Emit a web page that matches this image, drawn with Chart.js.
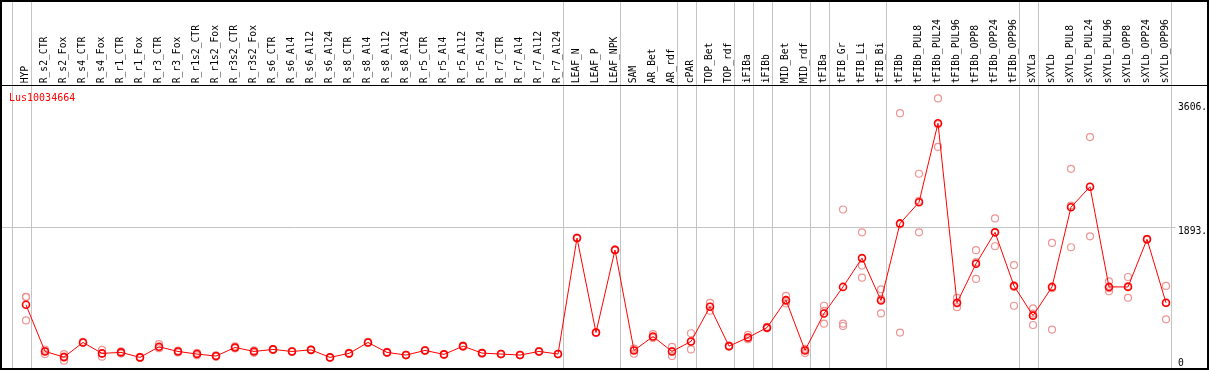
<!DOCTYPE html>
<html>
<head>
<meta charset="utf-8">
<script src="https://cdn.jsdelivr.net/npm/chart.js@4/dist/chart.umd.min.js"></script>
<style>
  body { margin: 0; background: #fff; }
  canvas { display: block; }
</style>
</head>
<body>
<canvas id="expr-chart" width="1209" height="370"></canvas>
<script>
const geneName = 'Lus10034664';

const categories = ['HYP', 'R_s2_CTR', 'R_s2_Fox', 'R_s4_CTR', 'R_s4_Fox', 'R_r1_CTR', 'R_r1_Fox',
    'R_r3_CTR', 'R_r3_Fox', 'R_r1s2_CTR', 'R_r1s2_Fox', 'R_r3s2_CTR', 'R_r3s2_Fox',
    'R_s6_CTR', 'R_s6_Al4', 'R_s6_Al12', 'R_s6_Al24', 'R_s8_CTR', 'R_s8_Al4', 'R_s8_Al12', 'R_s8_Al24',
    'R_r5_CTR', 'R_r5_Al4', 'R_r5_Al12', 'R_r5_Al24', 'R_r7_CTR', 'R_r7_Al4', 'R_r7_Al12', 'R_r7_Al24',
    'LEAF_N', 'LEAF_P', 'LEAF_NPK', 'SAM', 'AR_Bet', 'AR_rdf', 'cPAR', 'TOP_Bet', 'TOP_rdf',
    'iFIBa', 'iFIBb', 'MID_Bet', 'MID_rdf', 'tFIBa', 'tFIB_Gr', 'tFIB_Li', 'tFIB_Bi',
    'tFIBb', 'tFIBb_PUL8', 'tFIBb_PUL24', 'tFIBb_PUL96', 'tFIBb_OPP8', 'tFIBb_OPP24', 'tFIBb_OPP96',
    'sXYLa', 'sXYLb', 'sXYLb_PUL8', 'sXYLb_PUL24', 'sXYLb_PUL96', 'sXYLb_OPP8', 'sXYLb_OPP24', 'sXYLb_OPP96'];

// number of categories in each group (gray separators between groups)
const groupSizes = [1, 28, 3, 3, 1, 2, 1, 1, 2, 1, 3, 7, 1, 7];

const means = [823, 179, 101, 303, 152, 166, 97, 243, 179, 143, 115, 234, 179,
    207, 179, 201, 97, 152, 303, 166, 129, 193, 138, 252, 156, 143, 129, 179, 143,
    1745, 440, 1581, 193, 385, 179, 317, 796, 252, 371, 508, 887, 193,
    704, 1070, 1468, 882, 1947, 2239, 3331, 851, 1390, 1824, 1084,
    673, 1070, 2171, 2454, 1070, 1070, 1728, 851];

const rep1 = [933, 188, 143, 310, 201, 180, 105, 280, 190, 160, 125, 250, 195,
    212, 185, 205, 101, 158, 310, 172, 133, 198, 142, 260, 160, 147, 133, 184, 147,
    1750, 445, 1586, 147, 417, 243, 430, 851, 258, 407, 520, 947, 215,
    810, 2139, 1824, 1037, 3469, 2633, 3674, 920, 1577, 2016, 1372,
    773, 1677, 2701, 3140, 1147, 1207, 1735, 1084];

const rep2 = [608, 143, 51, 298, 106, 150, 90, 225, 165, 125, 105, 220, 160,
    200, 172, 196, 93, 146, 296, 160, 125, 188, 134, 245, 152, 139, 125, 174, 139,
    1740, 435, 1576, 215, 365, 115, 207, 741, 246, 348, 498, 841, 156,
    563, 563, 1366, 704, 440, 1824, 3003, 791, 1180, 1632, 810,
    544, 481, 1618, 1769, 1010, 920, 1720, 622];

const rep3 = [928, 206, 109, 301, 149, 168, 96, 224, 182, 144, 115, 232, 182,
    209, 180, 202, 97, 152, 303, 166, 129, 193, 138, 251, 156, 143, 129, 179, 143,
    1745, 440, 1581, 217, 373, 179, 314, 796, 252, 358, 506, 873, 208,
    739, 530, 1198, 905, 1932, 2260, 3316, 842, 1413, 1824, 1070,
    702, 1052, 2194, 2453, 1053, 1083, 1729, 847];

const yTickValues = [0, 1893, 3606];
const yTickLabels = ['0', '1893.', '3606.'];

const monoFont = 'DejaVu Sans Mono';
const repColor = '#ee9494';
const meanColor = '#ff0000';

// frame, separators, middle gridline and the gene name
const framePlugin = {
    id: 'frame',
    beforeDatasetsDraw(chart) {
        const ctx = chart.ctx;
        const xs = chart.scales.x;
        const ys = chart.scales.y;
        const W = chart.width, H = chart.height;
        const step = xs.getPixelForValue(1) - xs.getPixelForValue(0);
        ctx.save();
        ctx.strokeStyle = '#c4c4c4';
        ctx.lineWidth = 1;
        // separators
        let idx = -1;
        const bounds = [-1];
        groupSizes.forEach(function(n) { idx += n; bounds.push(idx); });
        bounds.forEach(function(b) {
            const x = Math.round(xs.getPixelForValue(0) + step * b + step / 4) + 0.5;
            ctx.beginPath();
            ctx.moveTo(x, 0);
            ctx.lineTo(x, H);
            ctx.stroke();
        });
        // middle gridline
        const gy = Math.round(ys.getPixelForValue(yTickValues[1])) + 0.5;
        ctx.beginPath();
        ctx.moveTo(1, gy);
        ctx.lineTo(chart.chartArea.right, gy);
        ctx.stroke();
        // black frame
        ctx.strokeStyle = '#000';
        ctx.lineWidth = 2;
        ctx.strokeRect(1, 1, W - 2, H - 2);
        ctx.lineWidth = 1;
        ctx.beginPath();
        ctx.moveTo(0, 85.5);
        ctx.lineTo(W, 85.5);
        ctx.stroke();
        // gene name
        ctx.fillStyle = '#ff0000';
        ctx.font = '10px "' + monoFont + '"';
        ctx.textBaseline = 'middle';
        ctx.textAlign = 'left';
        ctx.fillText(geneName, 9, 98);
        ctx.restore();
    }
};

function repDataset(values) {
    return {
        data: values,
        showLine: false,
        pointRadius: 3.5,
        pointBorderWidth: 1.2,
        pointBorderColor: repColor,
        pointBackgroundColor: 'rgba(0,0,0,0)',
        clip: false,
        order: 2
    };
}

const ctx = document.getElementById('expr-chart');
const exprChart = new Chart(ctx, {
    type: 'line',
    data: {
        labels: categories,
        datasets: [
            {
                data: means,
                borderColor: meanColor,
                borderWidth: 1,
                tension: 0,
                pointRadius: 3.5,
                pointBorderWidth: 1.6,
                pointBorderColor: meanColor,
                pointBackgroundColor: 'rgba(0,0,0,0)',
                clip: false,
                order: 1
            },
            repDataset(rep1),
            repDataset(rep2),
            repDataset(rep3)
        ]
    },
    options: {
        responsive: false,
        animation: false,
        events: [],
        layout: { padding: { left: 16.5, right: 0, top: 0, bottom: 3.6 } },
        plugins: { legend: { display: false }, tooltip: { enabled: false } },
        scales: {
            x: {
                type: 'category',
                position: 'top',
                offset: true,
                grid: { display: false, drawTicks: false },
                border: { display: false },
                ticks: {
                    autoSkip: false,
                    minRotation: 90,
                    maxRotation: 90,
                    padding: 20,
                    labelOffset: 11,
                    color: '#000',
                    font: { family: monoFont, size: 9.7 }
                },
                afterFit(scale) {
                    scale.height = 103.3;
                    scale.paddingLeft = 0;
                    scale.paddingRight = 0;
                }
            },
            y: {
                position: 'right',
                min: 0,
                max: 3606,
                grid: { display: false, drawTicks: false },
                border: { display: false },
                afterBuildTicks(scale) {
                    scale.ticks = yTickValues.map(function(v) { return { value: v }; });
                },
                ticks: {
                    padding: 2.5,
                    labelOffset: 4,
                    color: '#000',
                    font: function(c) {
                        if (c.tick && c.tick.value === 0) {
                            return { family: monoFont, size: 9.7, lineHeight: '10px' };
                        }
                        return { family: monoFont, size: 9.7 };
                    },
                    callback: function(value) {
                        const i = yTickValues.indexOf(value);
                        return value === 0 ? [yTickLabels[i], ''] : yTickLabels[i];
                    }
                },
                afterFit(scale) {
                    scale.width = 33.5;
                    scale.paddingTop = 0;
                    scale.paddingBottom = 0;
                }
            }
        }
    },
    plugins: [framePlugin]
});
</script>
</body>
</html>
